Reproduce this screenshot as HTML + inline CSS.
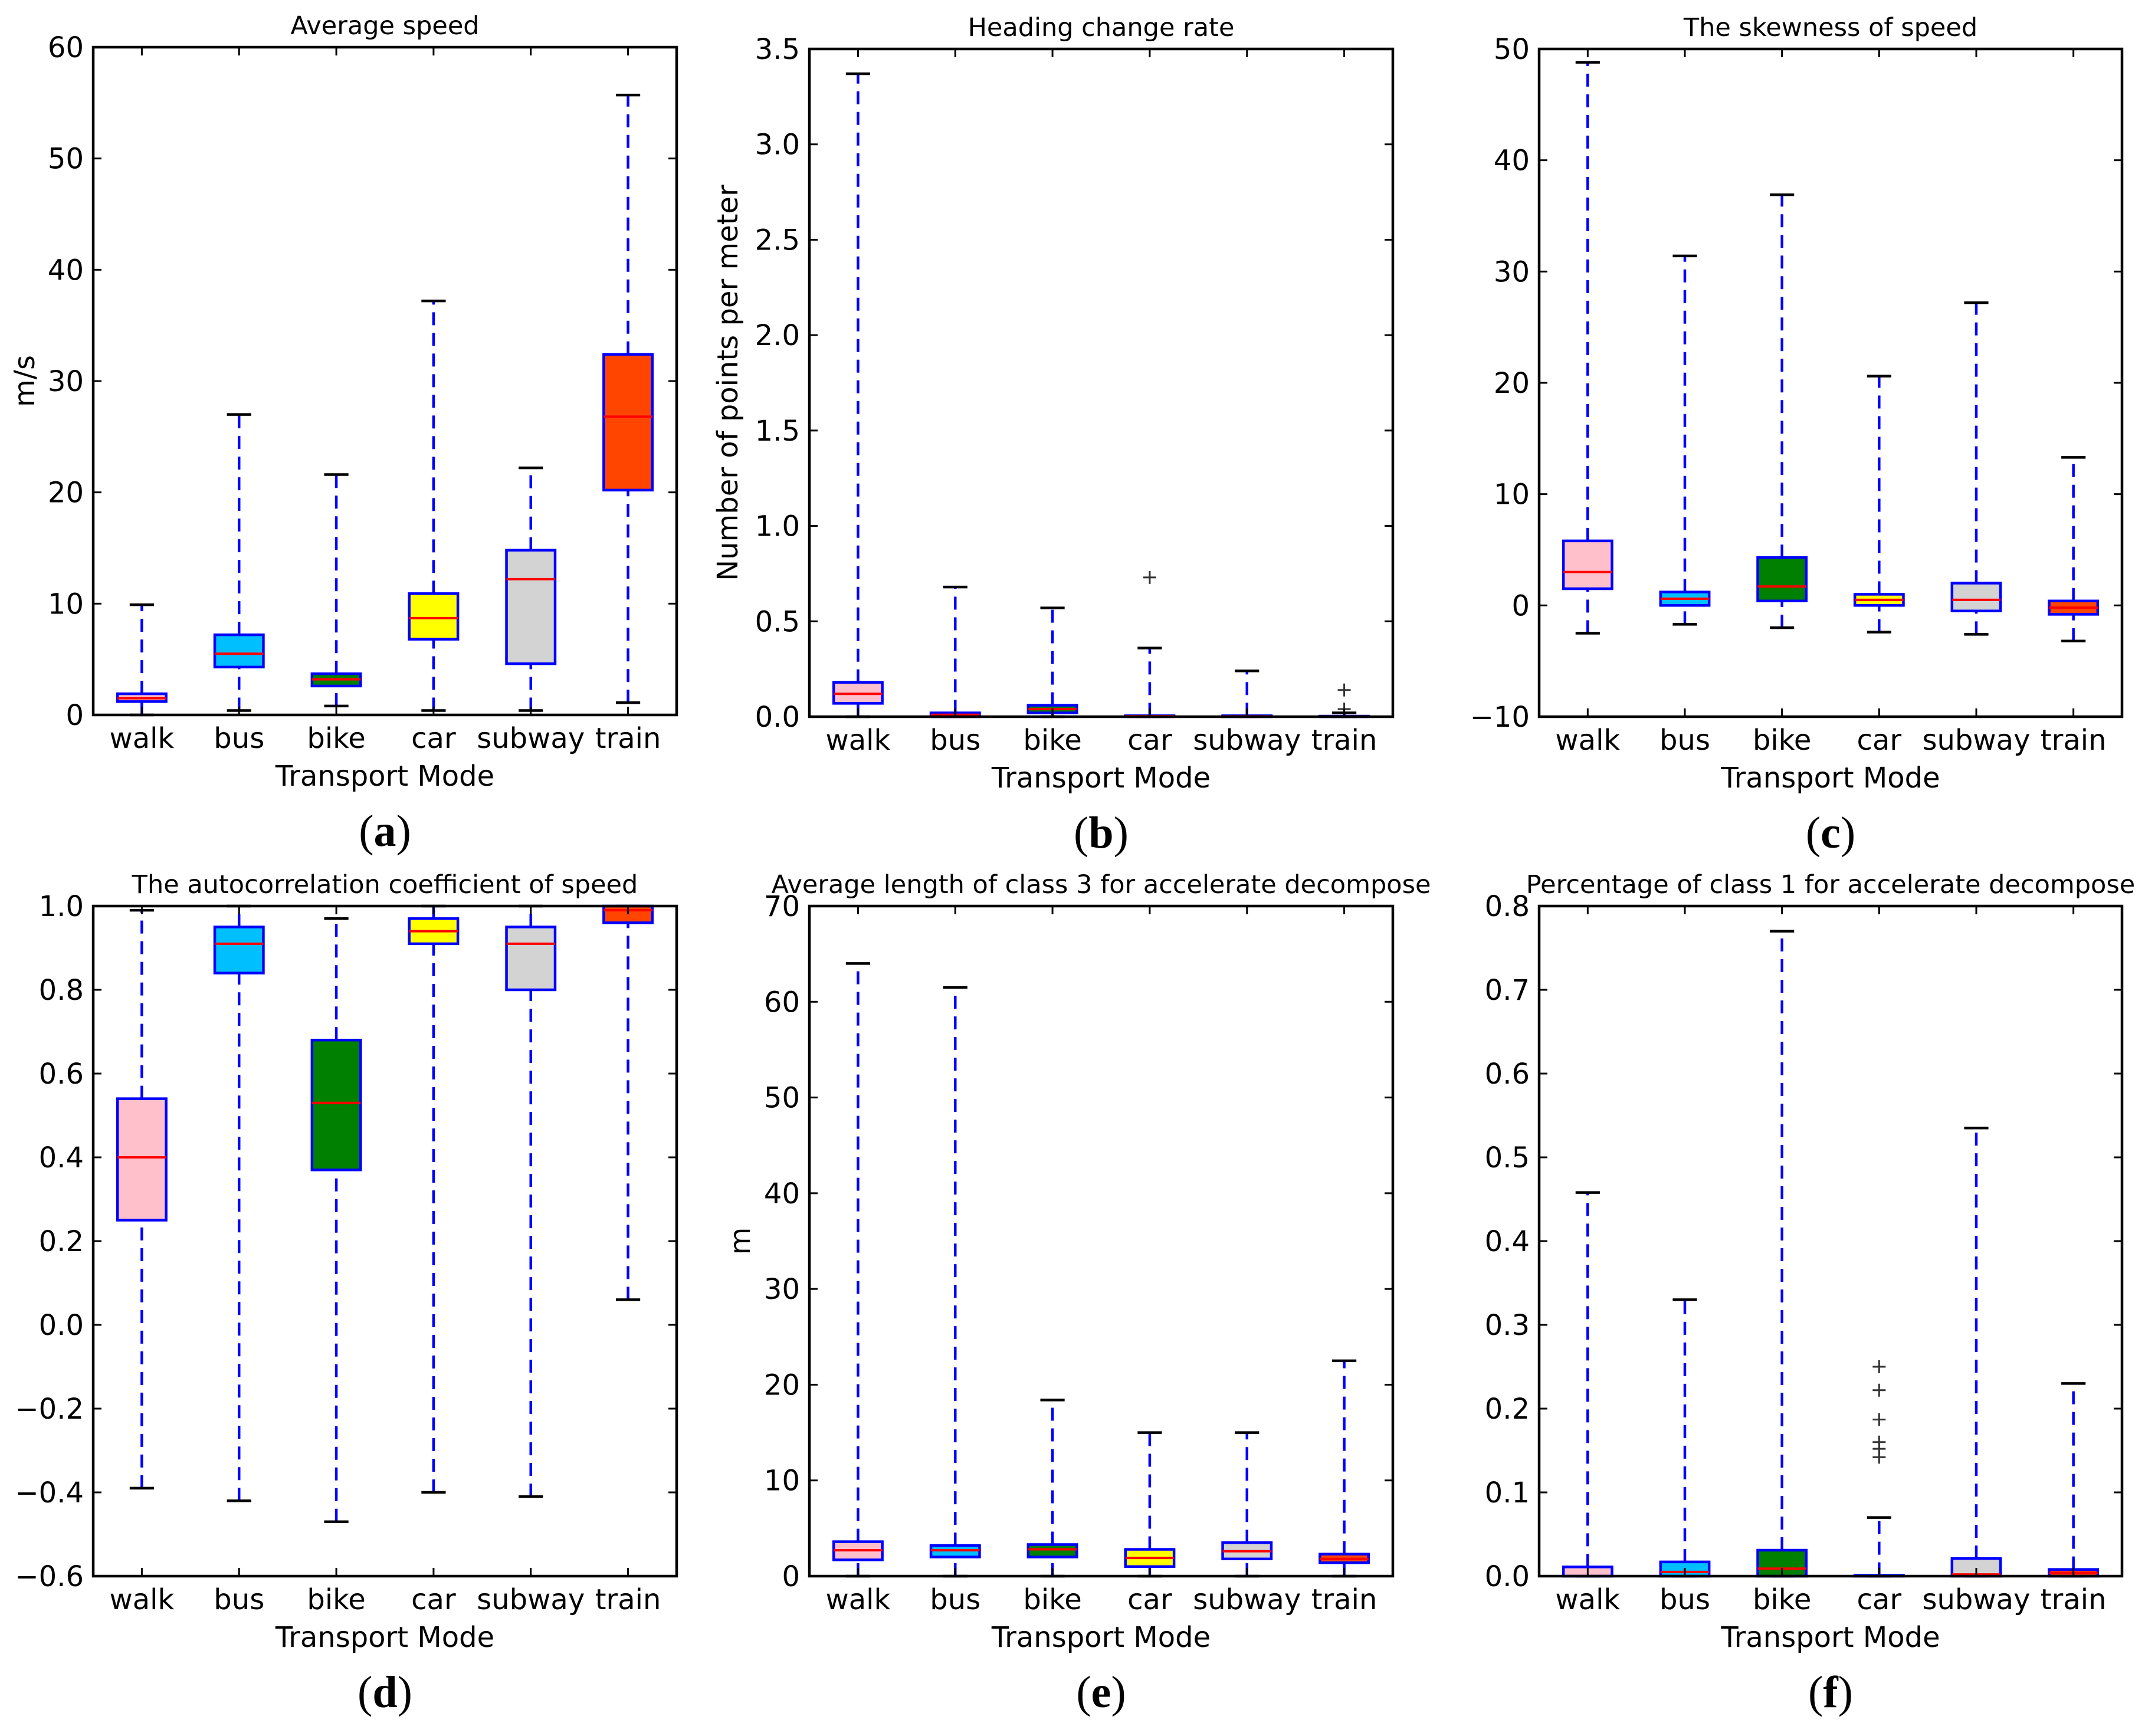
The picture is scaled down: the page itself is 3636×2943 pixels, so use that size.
<!DOCTYPE html>
<html><head><meta charset="utf-8">
<style>
html,body{margin:0;padding:0;background:#fff;}
svg{display:block;font-family:"DejaVu Sans","Liberation Sans",sans-serif;}
</style></head>
<body>
<svg id="fig" width="3636" height="2943" viewBox="0 0 3636 2943" xmlns="http://www.w3.org/2000/svg"></svg>
<script>
const categories = ["walk","bus","bike","car","subway","train"];
const boxColors = ["#ffc0cb","#00bfff","#008000","#ffff00","#d3d3d3","#ff4500"];

// each panel: [whiskerLow, q1, median, q3, whiskerHigh] per category
const avgSpeed = [[0,1.2,1.5,1.9,9.9],[0.4,4.3,5.5,7.2,27],[0.8,2.6,3.2,3.7,21.6],[0.4,6.8,8.7,10.9,37.2],[0.4,4.6,12.2,14.8,22.2],[1.1,20.2,26.8,32.4,55.7]];
const avgSpeedTicks = [0,10,20,30,40,50,60];
const headingRate = [[0,0.07,0.12,0.18,3.37],[0,0.0,0.01,0.02,0.68],[0,0.02,0.04,0.06,0.57],[0,0,0.003,0.005,0.36],[0,0,0.002,0.005,0.24],[0,0,0.001,0.003,0.02]];
const headingOutliers = [[],[],[],[0.73],[],[0.14,0.04]];
const headingTicks = [0,0.5,1.0,1.5,2.0,2.5,3.0,3.5];
const skewness = [[-2.5,1.5,3.0,5.8,48.8],[-1.7,0.0,0.6,1.2,31.4],[-2.0,0.4,1.7,4.3,36.9],[-2.4,0.0,0.5,1.0,20.6],[-2.6,-0.5,0.5,2.0,27.2],[-3.2,-0.8,-0.2,0.4,13.3]];
const skewTicks = [-10,0,10,20,30,40,50];
const autocorr = [[-0.39,0.25,0.40,0.54,0.99],[-0.42,0.84,0.91,0.95,1.0],[-0.47,0.37,0.53,0.68,0.97],[-0.40,0.91,0.94,0.97,1.0],[-0.41,0.80,0.91,0.95,1.0],[0.06,0.96,0.99,1.0,1.0]];
const autocorrTicks = [-0.6,-0.4,-0.2,0.0,0.2,0.4,0.6,0.8,1.0];
const class3Len = [[0,1.7,2.7,3.6,64],[0,2.0,2.7,3.2,61.5],[0,2.0,2.8,3.3,18.4],[0,1.0,1.9,2.8,15],[0,1.8,2.6,3.5,15],[0,1.4,1.8,2.3,22.5]];
const class3Ticks = [0,10,20,30,40,50,60,70];
const class1Pct = [[0,0,0,0.011,0.458],[0,0,0.005,0.017,0.33],[0,0,0.009,0.031,0.77],[0,0,0,0.001,0.07],[0,0,0.002,0.021,0.535],[0,0,0.004,0.008,0.23]];
const class1Outliers = [[],[],[],[0.25,0.222,0.187,0.16,0.152,0.142],[],[]];
const class1Ticks = [0,0.1,0.2,0.3,0.4,0.5,0.6,0.7,0.8];

const NS = "http://www.w3.org/2000/svg";
const svg = document.getElementById("fig");
function mk(tag, attrs, parent, text){
  const e = document.createElementNS(NS, tag);
  for (const k in attrs) e.setAttribute(k, attrs[k]);
  if (text !== undefined) e.textContent = text;
  (parent||svg).appendChild(e);
  return e;
}

const panels = [
  {key:"a", title:"Average speed", ylabel:"m/s", data:avgSpeed, out:null, ticks:avgSpeedTicks, dec:0, L:158, T:80, R:1147, B:1212, ylx:42},
  {key:"b", title:"Heading change rate", ylabel:"Number of points per meter", data:headingRate, out:headingOutliers, ticks:headingTicks, dec:1, L:1372, T:83, R:2361, B:1215, ylx:1234},
  {key:"c", title:"The skewness of speed", ylabel:"", data:skewness, out:null, ticks:skewTicks, dec:0, L:2609, T:83, R:3597, B:1215},
  {key:"d", title:"The autocorrelation coefficient of speed", ylabel:"", data:autocorr, out:null, ticks:autocorrTicks, dec:1, L:158, T:1536, R:1147, B:2672},
  {key:"e", title:"Average length of class 3 for accelerate decompose", ylabel:"m", data:class3Len, out:null, ticks:class3Ticks, dec:0, L:1372, T:1536, R:2361, B:2672, ylx:1255},
  {key:"f", title:"Percentage of class 1 for accelerate decompose", ylabel:"", data:class1Pct, out:class1Outliers, ticks:class1Ticks, dec:1, L:2609, T:1536, R:3597, B:2672}
];

panels.forEach(p => {
  const g = mk("g", {});
  
  
  const ymin = p.ticks[0], ymax = p.ticks[p.ticks.length-1];
  const yS = v => p.B - (v - ymin) / (ymax - ymin) * (p.B - p.T);
  const step = (p.R - p.L) / categories.length;
  const xS = i => p.L + (i + 0.5) * step;
  const bw = step * 0.5;

  const t = mk("text", {x:(p.L+p.R)/2, y:p.T-22, "text-anchor":"middle", "font-size":43}, g, p.title);
  
  

  p.ticks.forEach(v => {
    const y = yS(v);
    mk("line", {x1:p.L, x2:p.L+14, y1:y, y2:y, stroke:"#000", "stroke-width":3}, g);
    mk("line", {x1:p.R, x2:p.R-14, y1:y, y2:y, stroke:"#000", "stroke-width":3}, g);
    let s = v.toFixed(p.dec).replace("-", "\u2212");
    const tl = mk("text", {x:p.L-16, y:y+17, "text-anchor":"end", "font-size":48}, g, s);
    
    
  });

  p.data.forEach((d, i) => {
    const x = xS(i);
    const bx = mk("g", {}, g);
    
    
    mk("line", {x1:x, x2:x, y1:yS(d[0]), y2:yS(d[1]), stroke:"#0000ff", "stroke-width":4.5, "stroke-dasharray":"22,13"}, bx);
    mk("line", {x1:x, x2:x, y1:yS(d[3]), y2:yS(d[4]), stroke:"#0000ff", "stroke-width":4.5, "stroke-dasharray":"22,13"}, bx);
    mk("line", {x1:x-bw/4, x2:x+bw/4, y1:yS(d[0]), y2:yS(d[0]), stroke:"#000", "stroke-width":4.5}, bx);
    mk("line", {x1:x-bw/4, x2:x+bw/4, y1:yS(d[4]), y2:yS(d[4]), stroke:"#000", "stroke-width":4.5}, bx);
    const top = yS(d[3]), bot = yS(d[1]);
    mk("rect", {x:x-bw/2, y:top, width:bw, height:Math.max(bot-top,0.5), fill:boxColors[i], stroke:"#0000ff", "stroke-width":4.5}, bx);
    mk("line", {x1:x-bw/2, x2:x+bw/2, y1:yS(d[2]), y2:yS(d[2]), stroke:"#ff0000", "stroke-width":4}, bx);
    if (p.out && p.out[i]) p.out[i].forEach(o => {
      const oy = yS(o);
      const m = mk("path", {d:`M${x-11},${oy}H${x+11}M${x},${oy-11}V${oy+11}`, stroke:"#333", "stroke-width":3, fill:"none"}, bx);
      
      
    });
  });

  categories.forEach((c, i) => {
    const x = xS(i);
    mk("line", {x1:x, x2:x, y1:p.B, y2:p.B-14, stroke:"#000", "stroke-width":3}, g);
    mk("line", {x1:x, x2:x, y1:p.T, y2:p.T+14, stroke:"#000", "stroke-width":3}, g);
    const xl = mk("text", {x:x, y:p.B+56, "text-anchor":"middle", "font-size":48}, g, c);
    
    
  });

  const fr = mk("rect", {x:p.L, y:p.T, width:p.R-p.L, height:p.B-p.T, fill:"none", stroke:"#000", "stroke-width":4.5}, g);
  
  

  const xt = mk("text", {x:(p.L+p.R)/2, y:p.B+120, "text-anchor":"middle", "font-size":48}, g, "Transport Mode");
  
  

  if (p.ylabel) {
    const cy = (p.T+p.B)/2;
    const yt = mk("text", {x:p.ylx, y:cy, "text-anchor":"middle", "font-size":48, transform:`rotate(-90 ${p.ylx} ${cy})`, "dominant-baseline":"central"}, g, p.ylabel);
    
    
  }

  const pl = mk("text", {x:(p.L+p.R)/2, y:p.B+222, "text-anchor":"middle", "font-size":76, "font-family":"'Liberation Serif',serif"}, g);
  
  
  mk("tspan", {}, pl, "(");
  mk("tspan", {"font-weight":"bold"}, pl, p.key);
  mk("tspan", {}, pl, ")");
});
</script>
</body></html>
